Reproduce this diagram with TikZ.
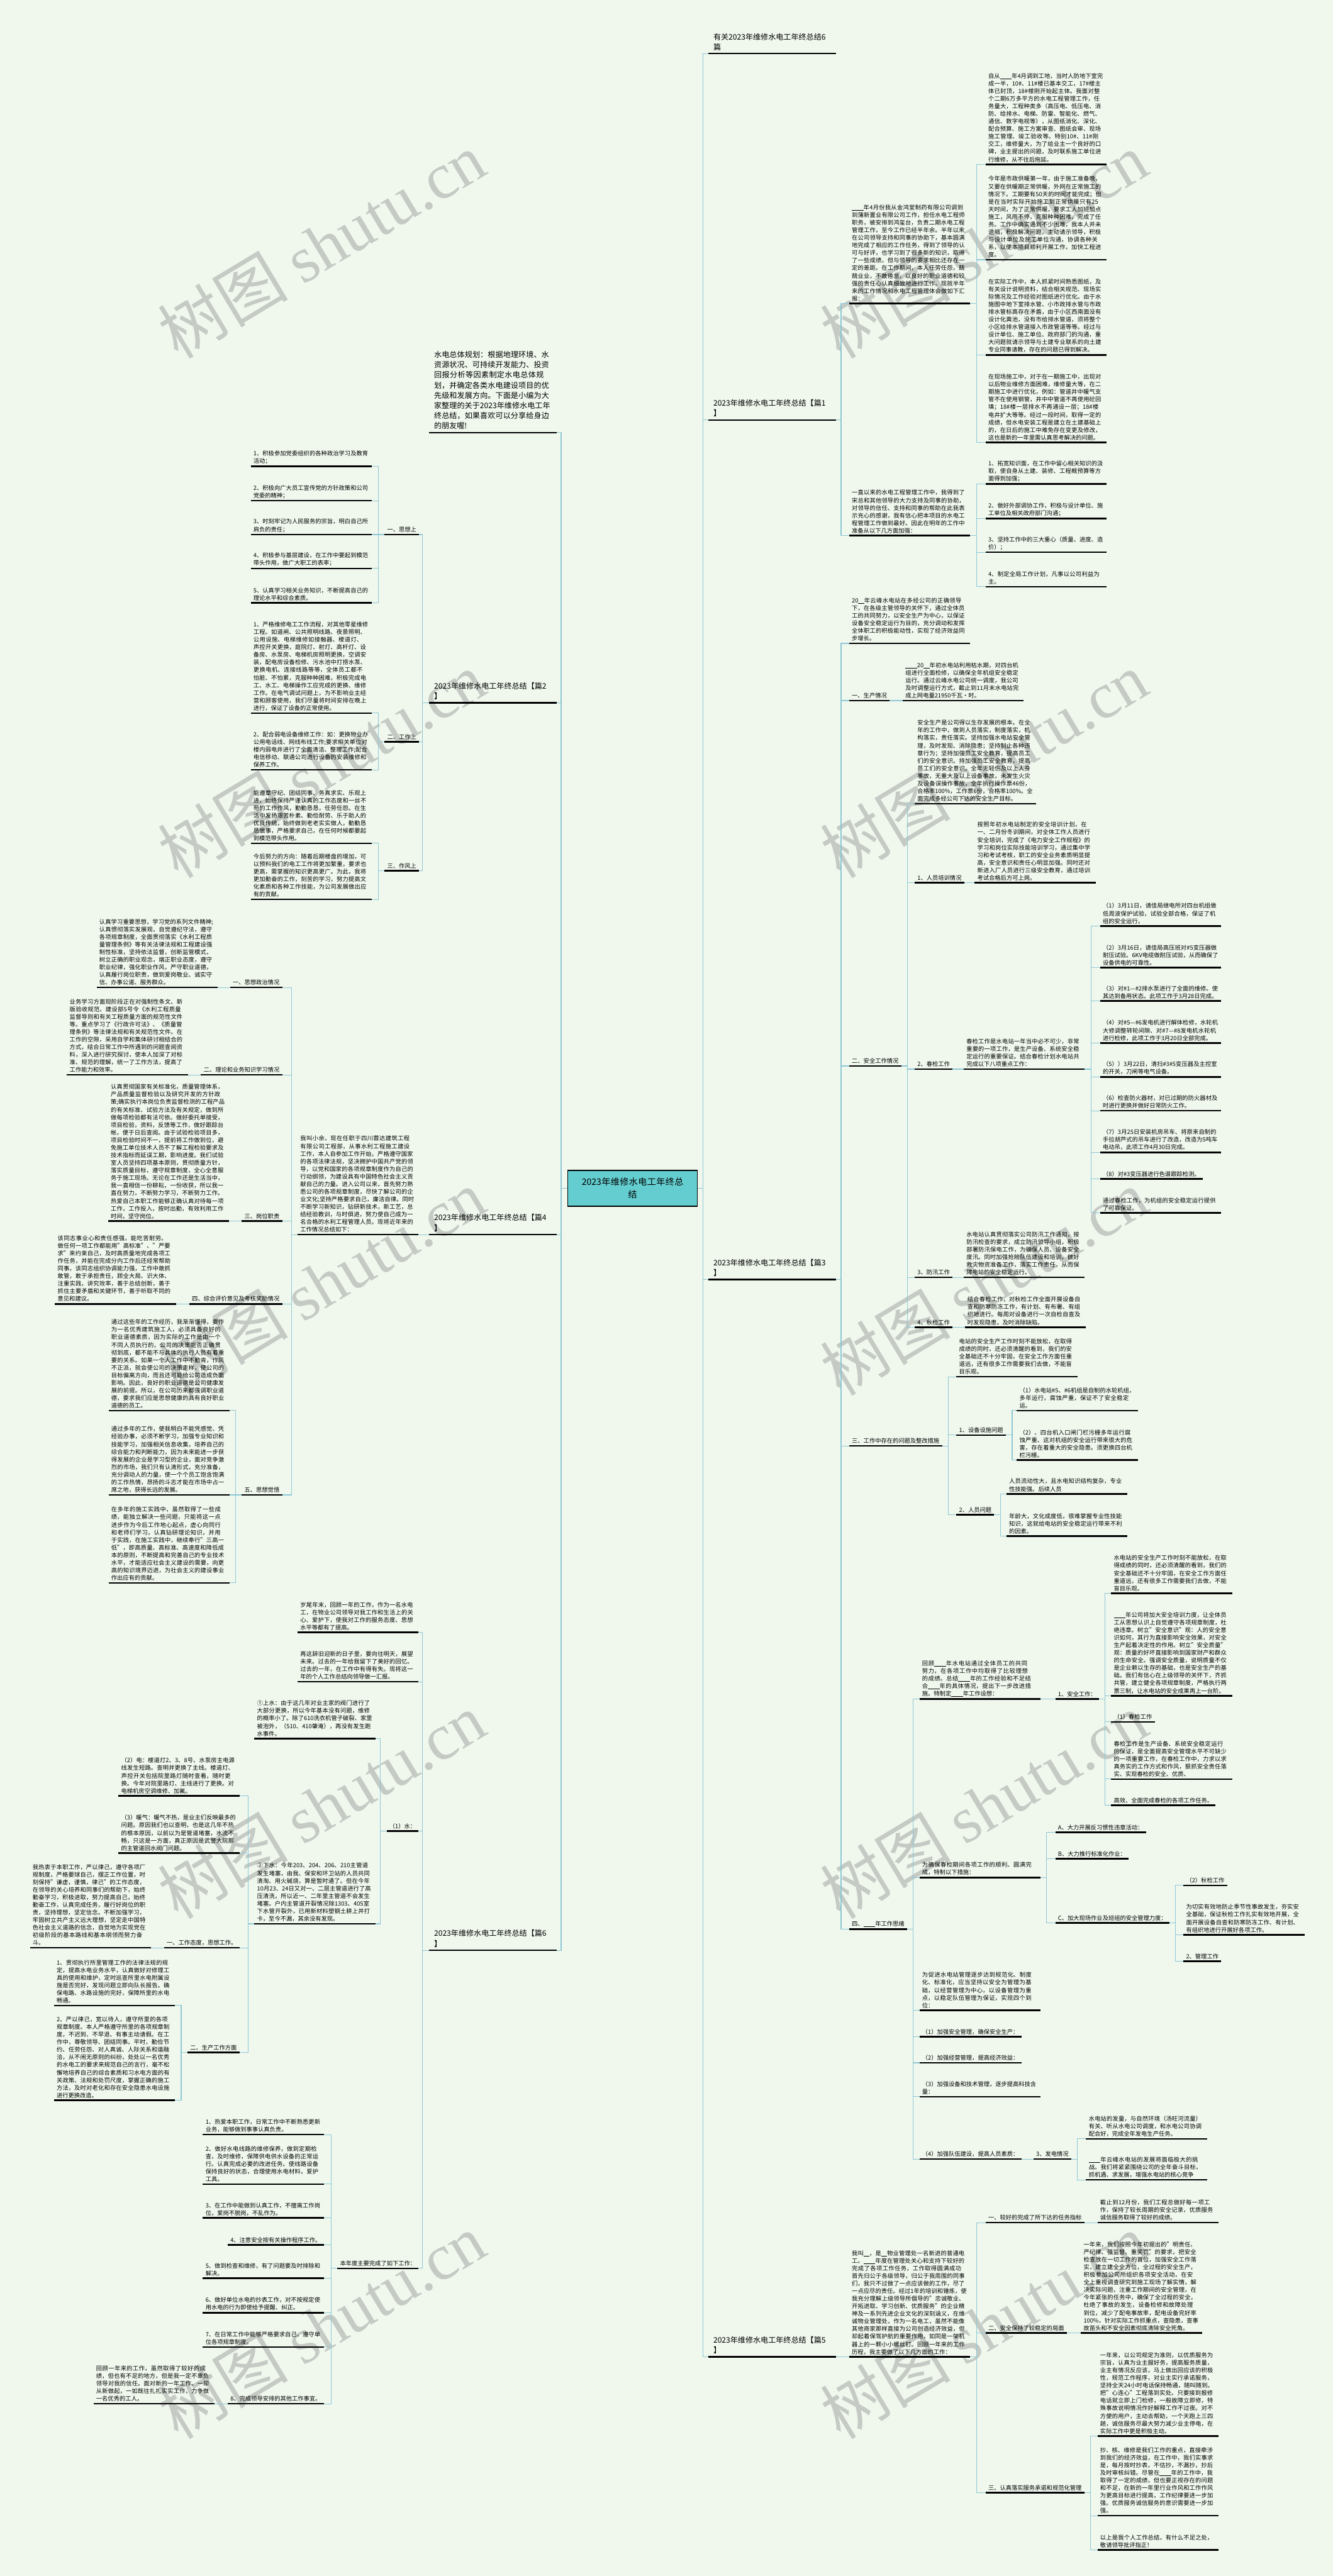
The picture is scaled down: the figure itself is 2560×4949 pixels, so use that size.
\documentclass[tikz,border=0pt]{standalone}
\usepackage{fontspec}
\setmainfont{Noto Sans CJK SC}
\newfontfamily\wmfont{Liberation Serif}
\XeTeXlinebreaklocale "zh"
\XeTeXlinebreakskip = 0pt plus 1pt
\definecolor{bgmint}{HTML}{F0F8EE}
\definecolor{linkblue}{HTML}{8DC7D5}
\definecolor{hubteal}{HTML}{63CDCF}
\definecolor{wmgray}{HTML}{C5CAC5}
\newcommand{\blnk}[1][2em]{\rule[-1.5pt]{#1}{0.6pt}}
\pgfdeclarelayer{bg}
\pgfsetlayers{bg,main}
\tikzstyle{link} = [draw=linkblue, line width=1.3pt]
\tikzstyle{txt} = [inner xsep=5pt, inner ysep=4pt,
    font=\fontsize{11.2}{14.6}\selectfont,
    append after command={(\tikzlastnode.south west) edge[draw=black, line width=3pt] (\tikzlastnode.south east)}]
\tikzstyle{para} = [txt, text width=222pt, align=left]
\tikzstyle{big} = [txt, inner xsep=10pt, inner ysep=6pt, text width=225pt, align=left,
    font=\fontsize{14.6}{19.5}\selectfont]
\tikzstyle{hub} = [draw=black, line width=1.5pt, fill=hubteal, text width=230pt, align=center,
    minimum width=249pt, minimum height=69pt, font=\fontsize{17}{24}\selectfont]
\tikzstyle{wmark} = [rotate=31, anchor=south west, inner sep=0pt, text=wmgray,
    font=\fontsize{125}{125}\selectfont]

\begin{document}
\begin{tikzpicture}[x=1pt, y=-1pt]
\useasboundingbox (0,0) rectangle (2560,4949);

\node[hub] (root) at (1215,2283) {2023年维修水电工年终总\\结};

% right side
\node[big, anchor=south west] (title) at (1360,103) {有关2023年维修水电工年终总结6\\篇};
\node[big, anchor=south west] (pian1) at (1360,807) {2023年维修水电工年终总结【篇1\\】};
\node[big, anchor=south west] (pian3) at (1360,2458) {2023年维修水电工年终总结【篇3\\】};
\node[big, anchor=south west] (pian5) at (1360,4528) {2023年维修水电工年终总结【篇5\\】};

\node[para, anchor=south west] (p1in) at (1631,583) {\blnk 年4月份我从金鸿堂制药有限公司调到到蒲新置业有限公司工作，担任水电工程师职务，被安排到鸿玺台，负责二期水电工程管理工作，至今工作已经半年余。半年以来在公司领导支持和同事的协助下，基本圆满地完成了相应的工作任务，得到了领导的认可与好评，也学习到了很多新的知识，取得了一些成绩，但与领导的要求相比还存在一定的差距。在工作期间，本人任劳任怨，兢兢业业，不敢倦怠，以良好的职业道德和较强的责任心认真细致地进行工作。现就半年来的工作情况和水电工程管理体会做如下汇报：};
\node[para, anchor=south west] (p1a) at (1893,316) {自从\blnk 年4月调到工地，当时人防地下室完成一半，10\#、11\#楼已基本交工，17\#楼主体已封顶，18\#楼刚开始起主体。我面对整个二期6万多平方的水电工程管理工作，任务量大，工程种类多（高压电、低压电、消防、给排水、电梯、防雷、智能化、燃气、通信、数字电视等），从图纸消化、深化、配合预算、施工方案审查、图纸会审、现场施工管理、竣工验收等。特别10\#、11\#刚交工，维修量大，为了给业主一个良好的口碑，业主提出的问题，及时联系施工单位进行维修，从不往后拖延。};
\node[para, anchor=south west] (p1b) at (1893,499) {今年是市政供暖第一年，由于施工准备晚，又要在供暖期正常供暖，外网在正常施工的情况下。工期要有50天的时间才能完成；但是在当时实际开始施工到正常供暖只有25天时间，为了正常供暖，要求工人加班加点施工，风雨不停，克服种种困难，完成了任务。工作中确实遇到不少困难，我本人并未退缩，积极解决问题，主动请示领导，积极与设计单位及施工单位沟通，协调各种关系，以便本项目顺利开展工作，加快工程进度。};
\node[para, anchor=south west] (p1c) at (1893,682) {在实际工作中，本人抓紧时间熟悉图纸，及有关设计说明资料，结合相关规范、现场实际情况及工作经验对图纸进行优化。由于水施图中地下室排水管、小市政排水管与市政排水管标高存在矛盾，由于小区西南面没有设计化粪池，没有市给排水管道，须将整个小区给排水管道接入市政管道等等。经过与设计单位、施工单位、政府部门的沟通，重大问题就请示领导与土建专业联系的向土建专业同事请教，存在的问题已得到解决。};
\node[para, anchor=south west] (p1d) at (1893,850) {在现场施工中，对于在一期施工中，出现对以后物业维修方面困难，维修量大等，在二期施工中进行优化，例如：管道井中暖气支管不在使用钢管，井中中管道不再使用砼回填；18\#楼一层排水不再通设一层；18\#楼电井扩大等等。经过一段时间，取得一定的成绩，但水电安装工程是建立在土建基础上的，在日后的施工中难免存在变更及修改，这也是新的一年里需认真思考解决的问题。};
\node[para, anchor=south west] (p1next) at (1631,1029) {一直以来的水电工程管理工作中，我得到了宋总和其他领导的大力支持及同事的协助，对领导的信任、支持和同事的帮助在此我表示充心的感谢，我有信心把本项目的水电工程管理工作做到最好。因此在明年的工作中准备从以下几方面加强：};
\node[para, anchor=south west] (p1e) at (1893,930) {1、拓宽知识面，在工作中留心相关知识的汲取，使自身从土建、装修、工程概预算等方面得到加强；};
\node[para, anchor=south west] (p1f) at (1893,996) {2、做好外部调协工作，积极与设计单位、施工单位及相关政府部门沟通；};
\node[para, anchor=south west] (p1g) at (1893,1061) {3、坚持工作中的三大重心（质量、进度、造价）；};
\node[para, anchor=south west] (p1h) at (1893,1127) {4、制定全局工作计划，凡事以公司利益为主。};

\node[para, anchor=south west] (p3in) at (1631,1236) {20\blnk[1em]年云峰水电站在多经公司的正确领导下，在各级主管领导的关怀下，通过全体员工的共同努力，以安全生产为中心，以保证设备安全稳定运行为目的，充分调动和发挥全体职工的积极能动性，实现了经济效益同步增长。};
\node[txt, anchor=south west] (p3prod) at (1631,1346) {一、生产情况};
\node[para, anchor=south west] (p3prodA) at (1734,1346) {\blnk 20\blnk[1em]年初水电站利用枯水期，对四台机组进行全面检修，以确保全年机组安全稳定运行。通过云峰水电公司统一调度，我公司及时调整运行方式，截止到11月末水电站完成上网电量21950千瓦·时。};
\node[txt, anchor=south west] (p3safe) at (1631,2048) {二、安全工作情况};
\node[para, anchor=south west] (p3safeA) at (1757,1544) {安全生产是公司得以生存发展的根本。在全年的工作中，做到人员落实，制度落实，机构落实，责任落实。坚持加强水电站安全管理，及时发现、消除隐患；坚持制止各种违章行为；坚持加强员工安全教育，提高员工们的安全意识。持加强员工安全教育，提高员工们的安全意识。全年无轻伤及以上人身事故，无重大及以上设备事故，未发生火灾及设备误操作事故，全年执行操作票46份，合格率100\%，工作票6份，合格率100\%。全面完成多经公司下达的安全生产目标。};
\node[txt, anchor=south west] (p3train) at (1757,1696) {1、人员培训情况};
\node[para, anchor=south west] (p3trainA) at (1872,1696) {按照年初水电站制定的安全培训计划，在一、二月份冬训期间，对全体工作人员进行安全培训，完成了《电力安全工作规程》的学习和岗位实际技能培训学习，通过集中学习和考试考核，职工的安全业务素质明显提高，安全意识和责任心明显加强。同时还对新进入厂人员进行三级安全教育，通过培训考试合格后方可上岗。};
\node[txt, anchor=south west] (p3spring) at (1757,2054) {2、春检工作};
\node[para, anchor=south west] (p3springA) at (1851,2054) {春检工作是水电站一年当中必不可少，非常重要的一项工作，是生产设备、系统安全稳定运行的重要保证。结合春检计划水电站共完成以下八项重点工作：};
\node[para, anchor=south west] (p3s1) at (2113,1779) {（1）3月11日，请佳局继电所对四台机组做低周波保护试验，试验全部合格，保证了机组的安全运行。};
\node[para, anchor=south west] (p3s2) at (2113,1859) {（2）3月16日，请佳局高压班对\#5变压器做耐压试验。6KV电缆做耐压试验，从而确保了设备供电的可靠性。};
\node[para, anchor=south west] (p3s3) at (2113,1923) {（3）对\#1—\#2排水泵进行了全面的维修。使其达到备用状态。此项工作于3月28日完成。};
\node[para, anchor=south west] (p3s4) at (2113,2004) {（4）对\#5—\#6发电机进行解体检修，水轮机大修调整转轮间隙、对\#7—\#8发电机水轮机进行检修，此项工作于3月20日全部完成。};
\node[para, anchor=south west] (p3s5) at (2113,2069) {（5））3月22日，清扫\#3\#5变压器及主控室的开关，刀闸等电气设备。};
\node[para, anchor=south west] (p3s6) at (2113,2134) {（6）检查防火器材，对已过期的防火器材及时进行更换并做好日常防火工作。};
\node[para, anchor=south west] (p3s7) at (2113,2214) {（7）3月25日安装机房吊车、将原来自制的手拉胡芦式的吊车进行了改造，改造为5吨车电动吊，此项工作4月30日完成。};
\node[txt, anchor=south west] (p3s8) at (2113,2265) {（8）对\#3变压器进行色谱跟踪检测。};
\node[para, anchor=south west] (p3s9) at (2113,2330) {通过春检工作，为机组的安全稳定运行提供了可靠保证。};
\node[txt, anchor=south west] (p3flood) at (1757,2454) {3、防汛工作};
\node[para, anchor=south west] (p3floodA) at (1851,2454) {水电站认真贯彻落实公司防汛工作通知，按防汛检查的要求，成立防汛领导小组，积极部署防汛保电工作，为确保人员、设备安全度汛。同时加强抢险队伍建设和培训，做好救灾物资准备工作，落实工作责任，从而保障电站的安全稳定运行。};
\node[txt, anchor=south west] (p3autumn) at (1757,2550) {4、秋检工作};
\node[para, anchor=south west] (p3autumnA) at (1853,2550) {结合春检工作，对秋检工作全面开展设备自查和防寒防冻工作，有计划、有布署、有组织地进行。每周对设备进行一次自检自查及时发现隐患，及时消除缺陷。};
\node[txt, anchor=south west] (p3issue) at (1631,2778) {三、工作中存在的问题及整改措施};
\node[para, anchor=south west] (p3issueA) at (1837,2645) {电站的安全生产工作时刻不能放松，在取得成绩的同时，还必须清醒的看到，我们的安全基础还不十分牢固，在安全工作方面任重道远，还有很多工作需要我们去做，不能盲目乐观。};
\node[txt, anchor=south west] (p3equip) at (1837,2757) {1、设备设施问题};
\node[para, anchor=south west] (p3equipA) at (1953,2710) {（1）水电站\#5、\#6机组是自制的水轮机组，多年运行，腐蚀严重，保证不了安全稳定运。};
\node[para, anchor=south west] (p3equipB) at (1953,2805) {（2）、四台机入口闸门栏污栅多年运行腐蚀严重、这对机组的安全运行带来很大的危害，存在着重大的安全隐患。须更换四台机栏污栅。};
\node[txt, anchor=south west] (p3staff) at (1837,2910) {2、人员问题};
\node[para, anchor=south west] (p3staffA) at (1933,2870) {人员流动性大，且水电知识结构复杂，专业性技能强。后续人员};
\node[para, anchor=south west] (p3staffB) at (1933,2951) {年龄大，文化成度低，很难掌握专业性技能知识，这就给电站的安全稳定运行带来不利的因素。};
\node[txt, anchor=south west] (p3plan) at (1631,3706) {四、\blnk 年工作思绪};
\node[para, anchor=south west] (p3planA) at (1766,3264) {回顾\blnk 年水电站通过全体员工的共同努力，在各项工作中均取得了比较理想的成绩。总结\blnk 年的工作经验和不足结合\blnk 年的具体情况，提出下一步改进措施。特制定\blnk 年工作设想：};
\node[txt, anchor=south west] (p3safety) at (2027,3264) {1、安全工作：};
\node[para, anchor=south west] (p3sa) at (2134,3061) {水电站的安全生产工作时刻不能放松，在取得成绩的同时，还必须清醒的看到，我们的安全基础还不十分牢固，在安全工作方面任重道远，还有很多工作需要我们去做，不能盲目乐观。};
\node[para, anchor=south west] (p3sb) at (2134,3258) {\blnk 年公司将加大安全培训力度，让全体员工从思想认识上自觉遵守各项规章制度，杜绝违章。树立"安全意识"观：人的安全意识如何，其行为直接影响安全效果，对安全生产起着决定性的作用。树立"安全质量"观：质量的好坏直接影响到国家财产和群众的生命安全。强调安全质量，说明质量不仅是企业赖以生存的基础，也是安全生产的基础。我们有信心在上级领导的关怀下，齐抓共管，建立健全各项规章制度，严格执行两票三制，让水电站的安全成果再上一台阶。};
\node[txt, anchor=south west] (p3sc) at (2134,3308) {（1）春检工作};
\node[para, anchor=south west] (p3sd) at (2134,3418) {春检工作是生产设备、系统安全稳定运行的保证，是全面提高安全管理水平不可缺少的一项重要工作，在春检工作中，力求以求真务实的工作方式和作风，狠抓安全责任落实、实现春检的安全、优质、};
\node[txt, anchor=south west] (p3se) at (2134,3468) {高效、全面完成春检的各项工作任务。};
\node[para, anchor=south west] (p3planB) at (1766,3607) {为确保春检期间各项工作的顺利、圆满完成，特制以下措施：};
\node[txt, anchor=south west] (p3mA) at (2027,3520) {A、大力开展反习惯性违章活动：};
\node[txt, anchor=south west] (p3mB) at (2027,3571) {B、大力推行标准化作业：};
\node[txt, anchor=south west] (p3mC) at (2027,3694) {C、加大现场作业及班组的安全管理力度：};
\node[txt, anchor=south west] (p3mC1) at (2273,3622) {（2）秋检工作};
\node[para, anchor=south west] (p3mC2) at (2273,3717) {为切实有效地防止季节性事故发生，夯实安全基础，保证秋检工作扎实有效地开展，全面开展设备自查和防寒防冻工作、有计划、有组织地进行开展好各项工作。};
\node[txt, anchor=south west] (p3mC3) at (2273,3768) {2、管理工作};
\node[para, anchor=south west] (p3planC) at (1766,3862) {为促进水电站管理逐步达到规范化、制度化、标准化，应当坚持以安全为管理为基础，以经营管理为中心，以设备管理为重点，以稳定队伍管理为保证，实现四个到位：};
\node[txt, anchor=south west] (p3k1) at (1766,3913) {（1）加强安全管理，确保安全生产：};
\node[txt, anchor=south west] (p3k2) at (1766,3963) {（2）加强经营管理，提高经济效益：};
\node[para, anchor=south west] (p3k3) at (1766,4028) {（3）加强设备和技术管理，逐步提高科技含\\量：};
\node[txt, anchor=south west] (p3k4) at (1766,4148) {（4）加强队伍建设，提高人员素质：};
\node[txt, anchor=south west] (p3gen) at (1985,4148) {3、发电情况};
\node[para, anchor=south west] (p3genA) at (2086,4109) {水电站的发量，与自然环境（汤旺河流量）有关、听从水电公司调度，和水电公司协调配合好，完成全年发电生产任务。};
\node[para, anchor=south west] (p3genB) at (2086,4188) {\blnk 年云峰水电站的发展将面临极大的挑战。我们将紧紧围绕公司的全年奋斗目标，抓机遇、求发展，增强水电站的核心竞争};

\node[para, anchor=south west] (p5in) at (1631,4528) {我叫\blnk[1em]，是\blnk[1em]物业管理处一名新进的普通电工。\blnk 年度在管理处关心和支持下较好的完成了各项工作任务，工作取得圆满成功首先归公于各级领导，归公于我周围的同事们，我只不过做了一点应该做的工作，尽了一点应尽的责任。经过1年的培训和锤炼，使我充分理解上级领导所倡导的"忠诚敬业、开拓进取、学习创新、优质服务"的企业精神及一系列先进企业文化的深刻涵义，在维诚物业管理处，作为一名电工，虽然不能像其他商家那样直接为公司创造经济效益，但却起着保驾护航的重要作用，如同是一架机器上的一颗小小螺丝钉。回顾一年来的工作历程，我主要做了以下几方面的工作：};
\node[txt, anchor=south west] (p5h1) at (1893,4270) {一、较好的完成了所下达的任务指标};
\node[para, anchor=south west] (p5h1A) at (2108,4270) {截止到12月份，我们工程总做好每一项工作，保持了较长周期的安全记录，优质服务诚信服务取得了较好的成绩。};
\node[txt, anchor=south west] (p5h2) at (1893,4482) {二、安全保持了较稳定的局面};
\node[para, anchor=south west] (p5h2A) at (2076,4482) {一年来，我们按照今年初提出的"明责任、严纪律、强监督、重奖罚"的要求，把安全检查放在一切工作的首位，加强安全工作落实，建立建全全方位，全过程的安全生产，积极参加公司所组织各项安全活动，在安全上重视调查研究到施工现场了解实情，解决实际问题，注重工作期间的安全管理，在今年紧张的任务中，确保了全过程的安全，杜绝了事故的发生，设备检修和故障处理到位，减少了配电事故率，配电设备完好率100\%，针对实际工作抓重点，查隐患，查事故苗头和不安全因素彻底清除安全死角。};
\node[txt, anchor=south west] (p5h3) at (1893,4789) {三、认真落实服务承诺和规范化管理};
\node[para, anchor=south west] (p5h3A) at (2108,4680) {一年来，以公司规定为准则，以优质服务为宗旨，认真为业主服好务，提高服务质量，业主有情况反应该，马上做出回应该的积极性，规范工作程序，对业主实行承诺服务，坚持全天24小时电话保持畅通，随叫随到。把"心连心"工程落到实处。只要接到报修电话就立即上门检修，一般故障立即修，特殊事故说明情况作好解释工作不过夜。对不方便的用户，主动去帮助，一个天跑上三四趟，诚信服务尽最大努力减少业主停电，在实际工作中更是积极主动。};
\node[para, anchor=south west] (p5h3B) at (2108,4833) {抄、核、维修是我们工作的重点，直接牵涉到我们的经济效益，在工作中，我们实事求是，每月按时抄表，不估抄，不漏抄，抄后及时审核纠错。尽管在\blnk 年的工作中，我取得了一定的成绩，但也要正视存在的问题和不足，在新的一年里行业作风和工作作风为更高目标进行提高，工作纪律要进一步加强。优质服务诚信服务的意识需要进一步加强。};
\node[para, anchor=south west] (p5h3C) at (2108,4899) {以上是我个人工作总结，有什么不足之处，敬请领导批评指正！};

% left side
\node[big, anchor=south east] (lead) at (1069,831) {水电总体规划：根据地理环境、水资源状况、可持续开发能力、投资回报分析等因素制定水电总体规划，并确定各类水电建设项目的优先级和发展方向。下面是小编为大家整理的关于2023年维修水电工年终总结，如果喜欢可以分享给身边的朋友喔!};
\node[big, anchor=south east] (pian2) at (1069,1350) {2023年维修水电工年终总结【篇2\\】};
\node[big, anchor=south east] (pian4) at (1069,2372) {2023年维修水电工年终总结【篇4\\】};
\node[big, anchor=south east] (pian6) at (1069,3747) {2023年维修水电工年终总结【篇6\\】};

\node[txt, anchor=south east] (p2h1) at (805,1027) {一、思想上};
\node[para, anchor=south east] (p2a) at (714,896) {1、积极参加党委组织的各种政治学习及教育活动；};
\node[para, anchor=south east] (p2b) at (714,962) {2、积极向广大员工宣传党的方针政策和公司党委的精神；};
\node[para, anchor=south east] (p2c) at (714,1027) {3、时刻牢记为人民服务的宗旨，明白自己所肩负的责任；};
\node[para, anchor=south east] (p2d) at (714,1092) {4、积极参与基层建设，在工作中要起到模范带头作用，做广大职工的表率；};
\node[para, anchor=south east] (p2e) at (714,1158) {5、认真学习相关业务知识，不断提高自己的理论水平和综合素质。};
\node[txt, anchor=south east] (p2h2) at (805,1425) {二、工作上};
\node[para, anchor=south east] (p2f) at (714,1370) {1、严格维修电工工作流程，对其他零星维修工程。如道闸、公共照明线路、夜景照明、公用设施、电梯维修如接触器、楼道灯、声控开关更换，庭院灯、射灯、高杆灯、设备房、水泵房、电梯机房照明更换，空调安装，配电房设备检修、污水池中打捞水泵、更换电机、连接线路等等，全体员工都不怕脏、不怕累，克服种种困难，积极完成电工、水工、电梯操作工应完成的更换、维修工作。在电气调试问题上，为不影响业主经营和顾客使用，我们尽量将时间安排在晚上进行，保证了设备的正常使用。};
\node[para, anchor=south east] (p2g) at (714,1479) {2、配合弱电设备维修工作：如：更换物业办公用电话线、网线布线工作;要求相关单位对楼内弱电井进行了全面清洁、整理工作;配合电信移动、联通公司进行设备的安装维修和保养工作。};
\node[txt, anchor=south east] (p2h3) at (805,1673) {三、作风上};
\node[para, anchor=south east] (p2h) at (714,1620) {能遵章守纪、团结同事、务真求实、乐观上进，始终保持严谨认真的工作态度和一丝不苟的工作作风，勤勤恳恳，任劳任怨。在生活中发扬艰苦朴素、勤俭耐劳、乐于助人的优良传统，始终做到老老实实做人，勤勤恳恳做事，严格要求自己，在任何时候都要起到模范带头作用。};
\node[para, anchor=south east] (p2i) at (714,1728) {今后努力的方向：随着后期楼盘的增加，可以预料我们的电工工作将更加繁重，要求也更高，需掌握的知识更高更广。为此，我将更加勤奋的工作，刻苦的学习，努力提高文化素质和各种工作技能，为公司发展做出应有的贡献。};

\node[para, anchor=south east] (p4in) at (804,2372) {我叫小余，现在任职于四川蓉达建筑工程有限公司工程部，从事水利工程施工建设工作，本人自参加工作开始，严格遵守国家的各项法律法规，坚决拥护中国共产党的领导，以党和国家的各项规章制度作为自己的行动纲领，为建设具有中国特色社会主义贡献自己的力量。进入公司以来，首先努力熟悉公司的各项规章制度，尽快了解公司的企业文化;坚持严格要求自己，廉洁自律。同时不断学习新知识，钻研新技术，新工艺，总结经验教训，与时俱进，努力使自己成为一名合格的水利工程管理人员。现将近年来的工作情况总结如下：};
\node[txt, anchor=south east] (p4h1) at (542,1897) {一、思想政治情况};
\node[para, anchor=south east] (p4h1A) at (418,1897) {认真学习重要思想，学习党的系列文件精神;认真惯彻落实发展观，自觉遵纪守法，遵守各项规章制度，全面贯彻落实《水利工程质量管理条例》等有关法律法规和工程建设强制性标准，坚持依法监督，创新监管模式，树立正确的职业观念，端正职业态度，遵守职业纪律，强化职业作风，严守职业道德，认真履行岗位职责，做到爱岗敬业、诚实守信、办事公道、服务群众。};
\node[txt, anchor=south east] (p4h2) at (542,2065) {二、理论和业务知识学习情况};
\node[para, anchor=south east] (p4h2A) at (361,2065) {业务学习方面现阶段正在对强制性条文、新版验收规范、建设部5号令《水利工程质量监督导则和有关工程质量方面的规范性文件等。重点学习了《行政许可法》、《质量管理条例》等法律法规和有关规范性文件。在工作的空隙，采用自学和集体研讨相结合的方式，结合日常工作中所遇到的问题查阅资料，深入进行研究探讨，使本人加深了对标准、规范的理解，统一了工作方法，提高了工作能力和效率。};
\node[txt, anchor=south east] (p4h3) at (542,2346) {三、岗位职责};
\node[para, anchor=south east] (p4h3A) at (440,2346) {认真贯彻国家有关标准化，质量管理体系，产品质量监督检验以及研究开发的方针政策;确实执行本岗位负责监督检测的工程产品的有关标准、试验方法及有关规定，做到所做每项检验都有法可依。做好委托单接受，项目检验，资料，反馈等工作，做好跟踪台帐，便于日后查阅。由于试验检验项目多，项目检验时间不一，提前将工作做到位，避免施工单位技术人员不了解工程检验要求及技术指标而延误工期，影响进度。我们试验室人员坚持四项基本原则，贯彻质量方针，落实质量目标，遵守规章制度，全心全意服务于施工现场。无论在工作还是生活当中，我一直相信一份耕耘，一份收获，所以我一直在努力，不断努力学习，不断努力工作。热爱自己本职工作能够正确认真对待每一项工作，工作投入，按时出勤，有效利用工作时间，坚守岗位。};
\node[txt, anchor=south east] (p4h4) at (542,2505) {四、综合评价意见及考核奖励情况};
\node[para, anchor=south east] (p4h4A) at (338,2505) {该同志事业心和责任感强，能吃苦耐劳。做任何一项工作都能用"高标准"、"严要求"来约束自己，及时高质量地完成各项工作任务，并能在完成分内工作后还经常帮助同事。该同志组织协调能力强，工作中敢抓敢管，敢于承担责任，顾全大局、识大体、注重实践，讲究效率，善于总结创新，善于抓住主要矛盾和关键环节，善于听取不同的意见和建议。};
\node[txt, anchor=south east] (p4h5) at (542,2872) {五、思想觉悟};
\node[para, anchor=south east] (p4h5A) at (441,2710) {通过这些年的工作经历，我渐渐懂得，要作为一名优秀建筑施工人，必须具备良好的职业道德素质，因为实际的工作是由一个不同人员执行的，公司的决策能否正确贯彻到底，都不能不与具体的执行人员有着重要的关系。如果一个人工作中不勤肯，作风不正派，就会使公司的决策走样，使公司的目标偏离方向，而且还可能给公司造成负面影响。因此，良好的职业道德是公司健康发展的前提。所以，在公司历来都强调职业道德，要求我们应是思想健康的具有良好职业道德的员工。};
\node[para, anchor=south east] (p4h5B) at (441,2872) {通过多年的工作，使我明白不能凭感觉、凭经验办事，必须不断学习，加强专业知识和技能学习，加强相关信息收集，培养自己的综合能力和判断能力，因为未来能进一步获得发展的企业是学习型的企业，面对竞争激烈的市场，我们只有认清形式，充分准备，充分调动人的力量，使一个个员工饱含饱满的工作热情，昂扬的斗志才能在市场中占一席之地，获得长远的发展。};
\node[para, anchor=south east] (p4h5C) at (441,3041) {在多年的施工实践中，虽然取得了一些成绩，能独立解决一些问题，只能将这一点进步作为今后工作地心起点，虚心向同行和老师们学习，认真钻研理论知识，并用于实践，在施工实践中，继续奉行"三高一低"，即高质量、高标准、高速度和降低成本的原则，不断提高和完善自己的专业技术水平，才能适应社会主义建设的需要，向更高的知识境界迈进，为社会主义的建设事业作出应有的贡献。};

\node[para, anchor=south east] (p6a) at (804,3136) {岁尾年末，回顾一年的工作，作为一名水电工，在物业公司领导对我工作和生活上的关心、爱护下，使我对工作的服务态度、思想水平等都有了提高。};
\node[para, anchor=south east] (p6b) at (804,3231) {再这辞旧迎新的日子里，要向往明天，展望未来。过去的一年给我留下了美好的回忆。过去的一年，在工作中有得有失。现将这一年的个人工作总结向领导做一汇报。};
\node[txt, anchor=south east] (p6w) at (804,3518) {（1）水：};
\node[para, anchor=south east] (p6w1) at (721,3340) {①上水：由于这几年对业主家的阀门进行了大部分更换，所以今年基本没有问题，维修的概率小了。除了610洗衣机管子破裂、家里被泡外，（510、410肇淹），再没有发生跑水事件。};
\node[para, anchor=south east] (p6w2) at (721,3696) {②下水：今年203、204、206、210主管道发生堵塞，由我、保安和环卫站的人员共同清淘、用火碱烧，算是暂时通了。但在今年10月23、24日又对一、二层主管道进行了高压清洗，所以近一、二年里主管道不会发生堵塞。户内主管道开裂情况除1303、405室下水管开裂外，已用新材料塑钢土耕上并打卡，至今不漏，其余没有发现。};
\node[para, anchor=south east] (p6e) at (460,3450) {（2）电：楼道灯2、3、8号、水泵房主电源线发生短路。查明并更换了主线。楼道灯、声控开关包括院里路灯随时查看，随时更换。今年对院里路灯、主线进行了更换。对电梯机房空调维修、加氟。};
\node[para, anchor=south east] (p6h) at (460,3560) {（3）暖气：暖气不热，是业主们反映最多的问题。原因我们也以查明，也是这几年不热的根本原因，以前以为是管道堵塞，水流不畅，只这是一方面，真正原因是武警大院那的主管道回水阀门问题。};
\node[txt, anchor=south east] (p6t) at (460,3742) {一、工作态度，思想工作。};
\node[para, anchor=south east] (p6tA) at (290,3742) {我热衷于本职工作，严以律己，遵守各项厂规制度，严格要球自己，摆正工作位置，时刻保持"谦虚，谨慎，律己"的工作态度，在领导的关心培养和同事们的帮助下，始终勤奋学习，积极进取，努力提高自己，始终勤奋工作，认真完成任务，履行好岗位的职责，坚持理想，坚定信念。不断加强学习，牢固树立共产主义远大理想，坚定走中国特色社会主义道路的信念，自觉地为实现党在初级阶段的基本路线和基本纲领而努力奋斗。};
\node[txt, anchor=south east] (p6p) at (460,3943) {二、生产工作方面};
\node[para, anchor=south east] (p6pA) at (336,3853) {1、贯彻执行所里管理工作的法律法规的规定，提高水电业务水平，认真做好对修理工具的使用和维护，定时巡查所里水电附属设施是否完好，发现问题立即向队长报告。确保电路、水路设施的完好，保障所里的水电畅通。};
\node[para, anchor=south east] (p6pB) at (336,4035) {2、严以律己，宽以待人，遵守所里的各项规章制度。本人严格遵守所里的各项规章制度，不迟到、不早退、有事主动请假。在工作中，尊敬领导、团结同事。平时，勤俭节约、任劳任怨、对人真诚、人际关系和谐融洽，从不闹无原则的纠纷，处处以一名优秀的水电工的要求来规范自己的言行，毫不松懈地培养自己的综合素质和习水电方面的有关政策、法规和处罚尺度，掌握正确的施工方法，及时对老化和存在安全隐患水电设施进行更换改造。};
\node[txt, anchor=south east] (p6y) at (804,4358) {本年度主要完成了如下工作：};
\node[para, anchor=south east] (p6y1) at (622,4101) {1、热爱本职工作，日常工作中不断熟悉更新业务，能够做到事事认真负责。};
\node[para, anchor=south east] (p6y2) at (622,4196) {2、做好水电线路的维修保养，做到定期检查，及时维修，保障供电供水设备的正常运行。认真完成必要的改进任务。使线路设备保持良好的状态，合理使用水电材料，爱护工具。};
\node[para, anchor=south east] (p6y3) at (622,4261) {3、在工作中能做到认真工作，不擅离工作岗位，爱岗不脱岗，不乱作为。};
\node[txt, anchor=south east] (p6y4) at (622,4313) {4、注意安全按有关操作程序工作。};
\node[para, anchor=south east] (p6y5) at (622,4377) {5、做到检查和维修，有了问题要及时排除和解决。};
\node[para, anchor=south east] (p6y6) at (622,4443) {6、做好单位水电的抄表工作，对不按规定使用水电的行为即使给予提醒、纠正。};
\node[para, anchor=south east] (p6y7) at (622,4509) {7、在日常工作中能够严格要求自己，遵守单位各项规章制度。};
\node[txt, anchor=south east] (p6y8) at (622,4618) {8、完成领导安排的其他工作事宜。};
\node[para, anchor=south east] (p6y8A) at (412,4618) {回顾一年来的工作，虽然取得了较好的成绩，但也有不足的地方，但是我一定不辜负领导对我的信任。面对新的一年工作。一却从新做起，一如既往扎扎实实工作，力争做一名优秀的工人。};

\begin{pgfonlayer}{bg}
\fill[bgmint] (0,0) rectangle (2560,4949);
\foreach \wx/\wy [count=\i] in {348/700, 348/1698, 348/2693, 348/3698, 348/4698,
    1620/700, 1620/1698, 1620/2693, 1620/3698, 1620/4698}
  \node[wmark] (wm\i) at (\wx,\wy) {树图 {\wmfont shutu.cn}};

\foreach \k in {title,pian1,pian3,pian5}
  \draw[link] (root.east) -- ++(10,0) |- (\k.south west);
\foreach \k in {lead,pian2,pian4,pian6}
  \draw[link] (root.west) -- ++(-12,0) |- (\k.south east);

\foreach \k in {p1in,p1next}
  \draw[link] (pian1.south east) -- ++(10,0) |- (\k.south west);
\foreach \k in {p1a,p1b,p1c,p1d}
  \draw[link] (p1in.south east) -- ++(12,0) |- (\k.south west);
\foreach \k in {p1e,p1f,p1g,p1h}
  \draw[link] (p1next.south east) -- ++(12,0) |- (\k.south west);

\foreach \k in {p3in,p3prod,p3safe,p3issue,p3plan}
  \draw[link] (pian3.south east) -- ++(10,0) |- (\k.south west);
\draw[link] (p3prod.south east) -- ++(12,0) |- (p3prodA.south west);
\foreach \k in {p3safeA,p3train,p3spring,p3flood,p3autumn}
  \draw[link] (p3safe.south east) -- ++(12,0) |- (\k.south west);
\draw[link] (p3train.south east) -- ++(12,0) |- (p3trainA.south west);
\draw[link] (p3spring.south east) -- ++(12,0) |- (p3springA.south west);
\foreach \k in {p3s1,p3s2,p3s3,p3s4,p3s5,p3s6,p3s7,p3s8,p3s9}
  \draw[link] (p3springA.south east) -- ++(12,0) |- (\k.south west);
\draw[link] (p3flood.south east) -- ++(12,0) |- (p3floodA.south west);
\draw[link] (p3autumn.south east) -- ++(12,0) |- (p3autumnA.south west);
\foreach \k in {p3issueA,p3equip,p3staff}
  \draw[link] (p3issue.south east) -- ++(12,0) |- (\k.south west);
\foreach \k in {p3equipA,p3equipB}
  \draw[link] (p3equip.south east) -- ++(12,0) |- (\k.south west);
\foreach \k in {p3staffA,p3staffB}
  \draw[link] (p3staff.south east) -- ++(12,0) |- (\k.south west);
\foreach \k in {p3planA,p3planB,p3planC,p3k1,p3k2,p3k3,p3k4}
  \draw[link] (p3plan.south east) -- ++(12,0) |- (\k.south west);
\draw[link] (p3planA.south east) -- ++(12,0) |- (p3safety.south west);
\foreach \k in {p3sa,p3sb,p3sc,p3sd,p3se}
  \draw[link] (p3safety.south east) -- ++(12,0) |- (\k.south west);
\foreach \k in {p3mA,p3mB,p3mC}
  \draw[link] (p3planB.south east) -- ++(12,0) |- (\k.south west);
\foreach \k in {p3mC1,p3mC2,p3mC3}
  \draw[link] (p3mC.south east) -- ++(12,0) |- (\k.south west);
\draw[link] (p3k4.south east) -- ++(12,0) |- (p3gen.south west);
\foreach \k in {p3genA,p3genB}
  \draw[link] (p3gen.south east) -- ++(12,0) |- (\k.south west);

\draw[link] (pian5.south east) -- ++(10,0) |- (p5in.south west);
\foreach \k in {p5h1,p5h2,p5h3}
  \draw[link] (p5in.south east) -- ++(12,0) |- (\k.south west);
\draw[link] (p5h1.south east) -- ++(12,0) |- (p5h1A.south west);
\draw[link] (p5h2.south east) -- ++(12,0) |- (p5h2A.south west);
\foreach \k in {p5h3A,p5h3B,p5h3C}
  \draw[link] (p5h3.south east) -- ++(12,0) |- (\k.south west);

\foreach \k in {p2h1,p2h2,p2h3}
  \draw[link] (pian2.south west) -- ++(-12,0) |- (\k.south east);
\foreach \k in {p2a,p2b,p2c,p2d,p2e}
  \draw[link] (p2h1.south west) -- ++(-12,0) |- (\k.south east);
\foreach \k in {p2f,p2g}
  \draw[link] (p2h2.south west) -- ++(-12,0) |- (\k.south east);
\foreach \k in {p2h,p2i}
  \draw[link] (p2h3.south west) -- ++(-12,0) |- (\k.south east);

\draw[link] (pian4.south west) -- ++(-12,0) |- (p4in.south east);
\foreach \k in {p4h1,p4h2,p4h3,p4h4,p4h5}
  \draw[link] (p4in.south west) -- ++(-12,0) |- (\k.south east);
\draw[link] (p4h1.south west) -- ++(-12,0) |- (p4h1A.south east);
\draw[link] (p4h2.south west) -- ++(-12,0) |- (p4h2A.south east);
\draw[link] (p4h3.south west) -- ++(-12,0) |- (p4h3A.south east);
\draw[link] (p4h4.south west) -- ++(-12,0) |- (p4h4A.south east);
\foreach \k in {p4h5A,p4h5B,p4h5C}
  \draw[link] (p4h5.south west) -- ++(-12,0) |- (\k.south east);

\foreach \k in {p6a,p6b,p6w,p6y}
  \draw[link] (pian6.south west) -- ++(-12,0) |- (\k.south east);
\foreach \k in {p6w1,p6w2}
  \draw[link] (p6w.south west) -- ++(-12,0) |- (\k.south east);
\foreach \k in {p6e,p6h,p6t,p6p}
  \draw[link] (p6w2.south west) -- ++(-12,0) |- (\k.south east);
\draw[link] (p6t.south west) -- ++(-12,0) |- (p6tA.south east);
\foreach \k in {p6pA,p6pB}
  \draw[link] (p6p.south west) -- ++(-12,0) |- (\k.south east);
\foreach \k in {p6y1,p6y2,p6y3,p6y4,p6y5,p6y6,p6y7,p6y8}
  \draw[link] (p6y.south west) -- ++(-12,0) |- (\k.south east);
\draw[link] (p6y8.south west) -- ++(-12,0) |- (p6y8A.south east);
\end{pgfonlayer}
\end{tikzpicture}
\end{document}
